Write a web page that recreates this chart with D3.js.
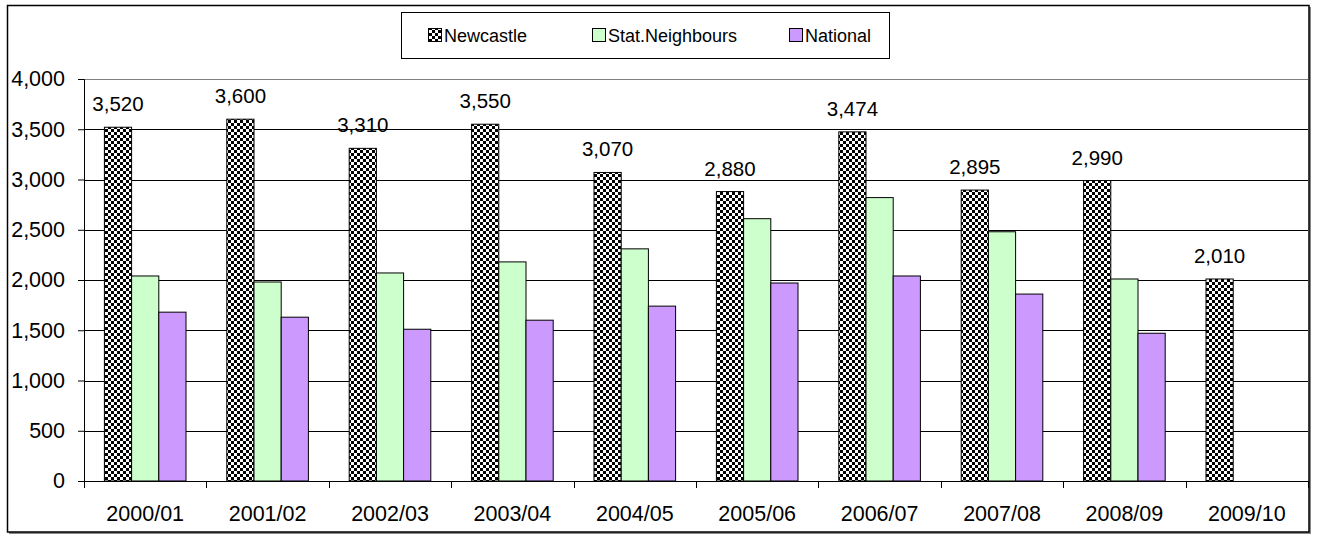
<!DOCTYPE html>
<html>
<head>
<meta charset="utf-8">
<script src="https://cdn.jsdelivr.net/npm/d3@7"></script>
<style>
  html, body { margin: 0; padding: 0; background: #fff; }
  svg { display: block; font-family: "Liberation Sans", Arial, sans-serif; }
</style>
</head>
<body>
<svg id="chart" width="1317" height="534"></svg>
<script>
// Yearly figures for Newcastle against its statistical neighbours and the national average
const years = ["2000/01", "2001/02", "2002/03", "2003/04", "2004/05", "2005/06", "2006/07", "2007/08", "2008/09", "2009/10"];
const newcastle = [3520, 3600, 3310, 3550, 3070, 2880, 3474, 2895, 2990, 2010];
const statNeighbours = [2040, 1980, 2070, 2180, 2310, 2610, 2820, 2480, 2010, null];
const national = [1680, 1630, 1510, 1600, 1740, 1970, 2040, 1860, 1470, null];
const seriesNames = ["Newcastle", "Stat.Neighbours", "National"];
const yTicks = [0, 500, 1000, 1500, 2000, 2500, 3000, 3500, 4000];

const svg = d3.select("#chart");
const plot = { left: 84, right: 1308, top: 79, bottom: 481 };

// Checkerboard fill for the Newcastle series
const defs = svg.append("defs");
const pat = defs.append("pattern")
  .attr("id", "checker").attr("patternUnits", "userSpaceOnUse")
  .attr("width", 6).attr("height", 6);
pat.append("rect").attr("width", 6).attr("height", 6).attr("fill", "#fff");
pat.append("rect").attr("width", 3).attr("height", 3).attr("fill", "#000");
pat.append("rect").attr("x", 3).attr("y", 3).attr("width", 3).attr("height", 3).attr("fill", "#000");

const fills = ["url(#checker)", "#CCFFCC", "#CC99FF"];

// Outer chart frame with a soft drop shadow on the right and bottom
svg.append("rect").attr("x", 9).attr("y", 7).attr("width", 1302).attr("height", 527)
  .attr("fill", "#888");
svg.append("rect").attr("x", 7.5).attr("y", 5.5).attr("width", 1301.5).attr("height", 526.5)
  .attr("fill", "#fff").attr("stroke", "#000").attr("stroke-width", 1.5);

const x = d3.scaleBand().domain(years).range([plot.left, plot.right]);
const inner = d3.scaleBand().domain(seriesNames).range([0, x.bandwidth()])
  .paddingInner(0).paddingOuter(0.75);
const y = d3.scaleLinear().domain([0, 4000]).range([plot.bottom, plot.top]);

// Plot area top edge and horizontal gridlines
svg.append("line").attr("x1", plot.left).attr("x2", plot.right)
  .attr("y1", plot.top + 0.5).attr("y2", plot.top + 0.5).attr("stroke", "#808080");
svg.append("g").selectAll("line").data(yTicks.filter(d => d > 0 && d < 4000)).join("line")
  .attr("x1", plot.left).attr("x2", plot.right)
  .attr("y1", d => Math.round(y(d)) + 0.5).attr("y2", d => Math.round(y(d)) + 0.5)
  .attr("stroke", "#000").attr("stroke-width", 1);

// Bars
const seriesData = [newcastle, statNeighbours, national];
seriesData.forEach((vals, si) => {
  svg.append("g").selectAll("rect")
    .data(years.map((yr, i) => ({ yr, v: vals[i] })).filter(d => d.v != null))
    .join("rect")
    .attr("x", d => x(d.yr) + inner(seriesNames[si]))
    .attr("y", d => y(d.v))
    .attr("width", inner.bandwidth())
    .attr("height", d => y(0) - y(d.v))
    .attr("fill", fills[si])
    .attr("stroke", "#000").attr("stroke-width", 1);
});

// Value labels above the Newcastle bars
svg.append("g").selectAll("text")
  .data(years.map((yr, i) => ({ yr, v: newcastle[i] })))
  .join("text")
  .attr("x", d => x(d.yr) + inner("Newcastle") + inner.bandwidth() / 2)
  .attr("y", d => y(d.v) - 16)
  .attr("text-anchor", "middle")
  .attr("font-size", 20.5)
  .attr("fill", "#000")
  .text(d => d3.format(",")(d.v));

// Y axis
const yAxis = svg.append("g").attr("transform", `translate(${plot.left},0)`)
  .call(d3.axisLeft(y).tickValues(yTicks).tickFormat(d3.format(",")).tickSize(6).tickPadding(13));
yAxis.select(".domain").attr("stroke", "#000");
yAxis.selectAll(".tick line").attr("stroke", "#000");
yAxis.selectAll("text").attr("font-size", 21.5).attr("fill", "#000")
  .attr("font-family", "Liberation Sans, Arial, sans-serif");

// X axis with ticks between categories
const xAxisG = svg.append("g");
xAxisG.append("line").attr("x1", plot.left).attr("x2", plot.right)
  .attr("y1", plot.bottom + 0.5).attr("y2", plot.bottom + 0.5).attr("stroke", "#000");
xAxisG.selectAll("line.tk").data(years.concat(["end"])).join("line").attr("class", "tk")
  .attr("x1", (d, i) => Math.round(plot.left + i * x.step()) + 0.5)
  .attr("x2", (d, i) => Math.round(plot.left + i * x.step()) + 0.5)
  .attr("y1", plot.bottom).attr("y2", plot.bottom + 7).attr("stroke", "#000");
xAxisG.selectAll("text").data(years).join("text")
  .attr("x", d => x(d) + x.bandwidth() / 2)
  .attr("y", 521)
  .attr("text-anchor", "middle")
  .attr("font-size", 21.5)
  .attr("fill", "#000")
  .text(d => d);

// Legend
const legend = svg.append("g");
legend.append("rect").attr("x", 401.5).attr("y", 12.5).attr("width", 488).attr("height", 46)
  .attr("fill", "#fff").attr("stroke", "#000").attr("stroke-width", 1);
const legendX = [428, 592, 789];
seriesNames.forEach((name, i) => {
  legend.append("rect").attr("x", legendX[i] + 0.5).attr("y", 28.5).attr("width", 13).attr("height", 13)
    .attr("fill", fills[i]).attr("stroke", "#000").attr("stroke-width", 1);
  legend.append("text").attr("x", legendX[i] + 16).attr("y", 42)
    .attr("font-size", 18).attr("fill", "#000").text(name);
});
</script>
</body>
</html>
